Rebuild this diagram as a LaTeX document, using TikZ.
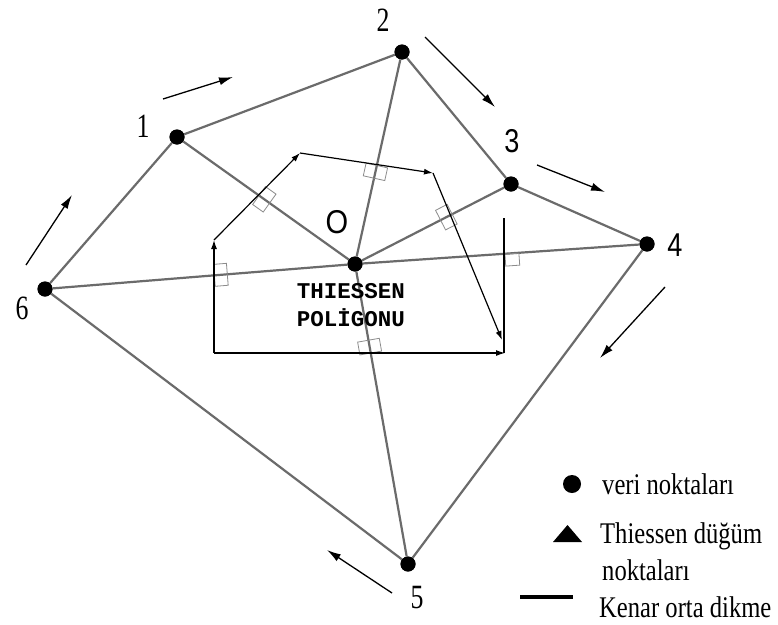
\documentclass[tikz,border=0pt]{standalone}
\usepackage{fontspec}
\setmainfont{Liberation Serif}
\newfontfamily\sansf{Liberation Sans}
\newfontfamily\monof{Liberation Mono}
\usetikzlibrary{arrows.meta}
\newcommand\cnd[2][0.8]{\scalebox{#1}[1]{#2}}
\begin{document}
\begin{tikzpicture}[x=1pt,y=-1pt,
  edge/.style={draw=black!58, line width=2.2pt},
  dot/.style={circle, fill=black, minimum size=15pt, inner sep=0pt},
  poly/.style={draw=black, line width=1.2pt},
  pa/.style={poly, -{Latex[length=9pt,width=6pt]}},
  flow/.style={draw=black, line width=1.3pt, -{Latex[length=14pt,width=8pt]}},
  sqm/.style={draw=black!45, line width=0.8pt, minimum width=13pt, minimum height=22pt, inner sep=0pt, sloped, allow upside down, anchor=east},
  num/.style={font=\fontsize{34}{34}\selectfont, inner sep=0pt},
  snum/.style={font=\sansf\fontsize{33}{33}\selectfont, inner sep=0pt},
  leg/.style={font=\fontsize{30}{30}\selectfont, inner sep=0pt, anchor=base west},
]
\fill[white] (0,0) rectangle (778,624);
\useasboundingbox (0,0) rectangle (778,624);

% data points
\node[dot] (n1) at (177,137) {};
\node[dot] (n2) at (402,52) {};
\node[dot] (n3) at (511,184) {};
\node[dot] (n4) at (647,244) {};
\node[dot] (n5) at (408,564) {};
\node[dot] (n6) at (45,289) {};
\node[dot] (O) at (355,264) {};

% triangulation edges
\draw[edge] (n1) -- (n2) -- (n3) -- (n4) -- (n5) -- (n6) -- (n1);
\foreach \k in {1,...,6} \draw[edge] (O) -- (n\k);

% right-angle markers
\path (O.center) -- (n1.center) node[sqm, pos=0.541] {};
\path (O.center) -- (n2.center) node[sqm, pos=0.4665] {};
\path (O.center) -- (n3.center) node[sqm, pos=0.625] {};
\path (O.center) -- (n5.center) node[sqm, pos=0.298] {};
\path (O.center) -- (n6.center) node[sqm, pos=0.455] {};
\path (O.center) -- (n4.center) node[sqm, pos=0.512, minimum width=14pt, minimum height=12pt, anchor=north west] {};

% Thiessen polygon
\coordinate (p1) at (214,353);
\coordinate (p2) at (214,240);
\coordinate (p3) at (300,153);
\coordinate (p4) at (433,173);
\coordinate (p5) at (502,340);
\coordinate (p6) at (505,353);
\coordinate (q1) at (504,218);
\coordinate (q2) at (504,353);
\draw[pa] (p1) -- (p2);
\draw[pa] (p2) -- (p3);
\draw[pa] (p3) -- (p4);
\draw[pa] (p4) -- (p5);
\draw[pa] (p1) -- (p6);
\draw[poly] (q1) -- (q2);

% redraw dots on top
\foreach \k in {n1,n2,n3,n4,n5,n6,O} \fill (\k) circle (7.5pt);

% direction arrows
\coordinate (a1s) at (163,99);  \coordinate (a1e) at (233,77);
\coordinate (a2s) at (425,37);  \coordinate (a2e) at (495,107);
\coordinate (a3s) at (537,165); \coordinate (a3e) at (605,192);
\coordinate (a4s) at (665,287); \coordinate (a4e) at (600,358);
\coordinate (a5s) at (392,593); \coordinate (a5e) at (327,550);
\coordinate (a6s) at (26,265);  \coordinate (a6e) at (72,195);
\draw[flow] (a1s) -- (a1e);
\draw[flow] (a2s) -- (a2e);
\draw[flow] (a3s) -- (a3e);
\draw[flow] (a4s) -- (a4e);
\draw[flow] (a5s) -- (a5e);
\draw[flow] (a6s) -- (a6e);

% labels
\node[num] (l1) at (143,126) {\cnd[0.76]{1}};
\node[num] (l2) at (383,20) {\cnd[0.76]{2}};
\node[snum] (l3) at (512,141) {\cnd[0.82]{3}};
\node[snum] (l4) at (675,245) {\cnd[0.82]{4}};
\node[num] (l5) at (417,598) {\cnd[0.76]{5}};
\node[num] (l6) at (22,308) {\cnd[0.76]{6}};
\node[snum] (lO) at (337,222) {\cnd[0.88]{O}};
\node[align=center, inner sep=0pt, font=\monof\bfseries\fontsize{22.5}{28}\selectfont] (tp) at (351,305) {THIESSEN\\POLİGONU};

% legend
\node[dot, minimum size=18pt] (ld) at (572,484) {};
\fill (553,542) -- (567.5,525) -- (582,542) -- cycle;
\coordinate (la) at (520,597);
\coordinate (lb) at (573,597);
\draw[line width=3.5pt] (la) -- (lb);
\node[leg] (t1) at (602,494) {\cnd[0.82]{veri noktaları}};
\node[leg] (t2) at (600,543) {\cnd[0.82]{Thiessen düğüm}};
\node[leg] (t3) at (602,580) {\cnd[0.82]{noktaları}};
\node[leg] (t4) at (599,617) {\cnd[0.82]{Kenar orta dikme}};
\end{tikzpicture}
\end{document}
